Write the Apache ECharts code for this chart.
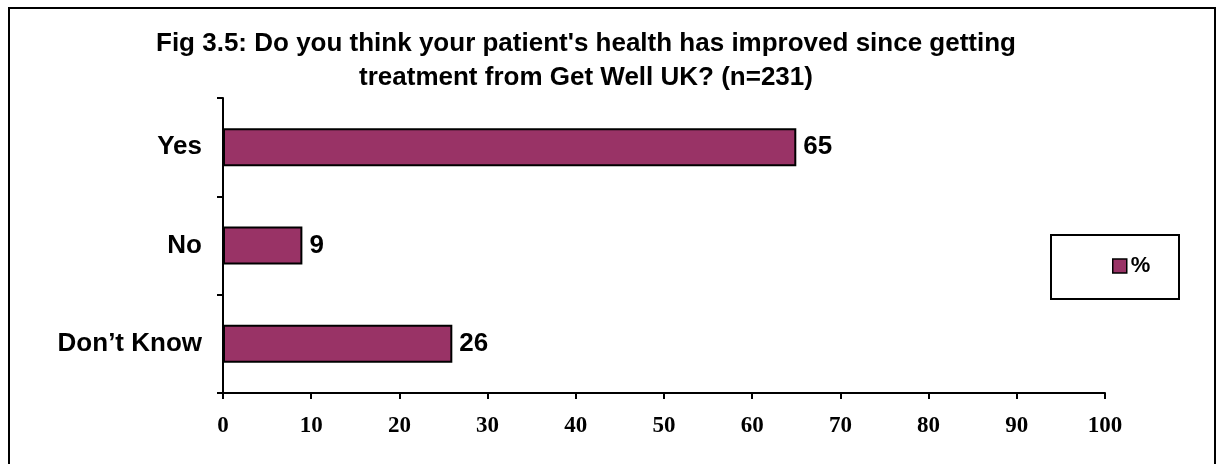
<!DOCTYPE html>
<html>
<head>
<meta charset="utf-8">
<script src="https://cdn.jsdelivr.net/npm/echarts@6/dist/echarts.min.js"></script>
<style>
html,body{margin:0;padding:0;background:#fff;}
#chart{width:1217px;height:464px;}
</style>
</head>
<body>
<div id="chart"></div>
<script>
const categories = ["Don\u2019t Know", "No", "Yes"];
const values = [26, 9, 65];
const seriesName = "%";
const titleText = "Fig 3.5: Do you think your patient's health has improved since getting\ntreatment from Get Well UK? (n=231)";

const chart = echarts.init(document.getElementById('chart'));
chart.setOption({
  animation: false,
  backgroundColor: '#fff',
  title: {
    text: titleText,
    left: 581,
    top: 22,
    textAlign: 'center',
    textStyle: {
      fontFamily: 'Liberation Sans, Arial, sans-serif',
      fontWeight: 'bold',
      fontSize: 26,
      lineHeight: 34,
      color: '#000'
    }
  },
  graphic: [
    { type: 'rect', shape: { x: 9, y: 8, width: 1206, height: 470 },
      style: { fill: null, stroke: '#000', lineWidth: 2 }, silent: true },
    { type: 'rect', shape: { x: 1051, y: 235, width: 128, height: 64 },
      style: { fill: '#fff', stroke: '#000', lineWidth: 2 }, silent: true, z: 1 }
  ],
  legend: {
    data: [seriesName],
    left: 1112,
    top: 255,
    padding: 0,
    icon: 'rect',
    itemWidth: 14,
    itemHeight: 14,
    itemGap: 4,
    z: 5,
    textStyle: {
      fontFamily: 'Liberation Sans, Arial, sans-serif',
      fontWeight: 'bold',
      fontSize: 22,
      color: '#000',
      padding: [0, 0, 0, -1]
    },
    itemStyle: { borderColor: '#000', borderWidth: 1.5 }
  },
  grid: { left: 223, right: 112, top: 98, bottom: 71, containLabel: false },
  xAxis: {
    type: 'value',
    min: 0, max: 100, interval: 10,
    axisLine: { show: true, lineStyle: { color: '#000', width: 2 } },
    axisTick: { show: true, length: 6, lineStyle: { color: '#000', width: 2 } },
    splitLine: { show: false },
    axisLabel: {
      margin: 22,
      fontFamily: 'Liberation Serif, Times New Roman, serif',
      fontWeight: 'bold',
      fontSize: 23,
      color: '#000'
    }
  },
  yAxis: {
    type: 'category',
    data: categories,
    axisLine: { show: true, lineStyle: { color: '#000', width: 2 } },
    axisTick: { show: true, length: 6, lineStyle: { color: '#000', width: 2 } },
    axisLabel: {
      margin: 21,
      fontFamily: 'Liberation Sans, Arial, sans-serif',
      fontWeight: 'bold',
      fontSize: 26,
      color: '#000'
    }
  },
  series: [{
    name: seriesName,
    type: 'bar',
    data: values,
    barWidth: 38,
    itemStyle: { color: '#993366', borderColor: '#000', borderWidth: 2 },
    label: {
      show: true,
      position: 'right',
      distance: 7,
      fontFamily: 'Liberation Sans, Arial, sans-serif',
      fontWeight: 'bold',
      fontSize: 26,
      color: '#000'
    }
  }]
});
</script>
</body>
</html>
